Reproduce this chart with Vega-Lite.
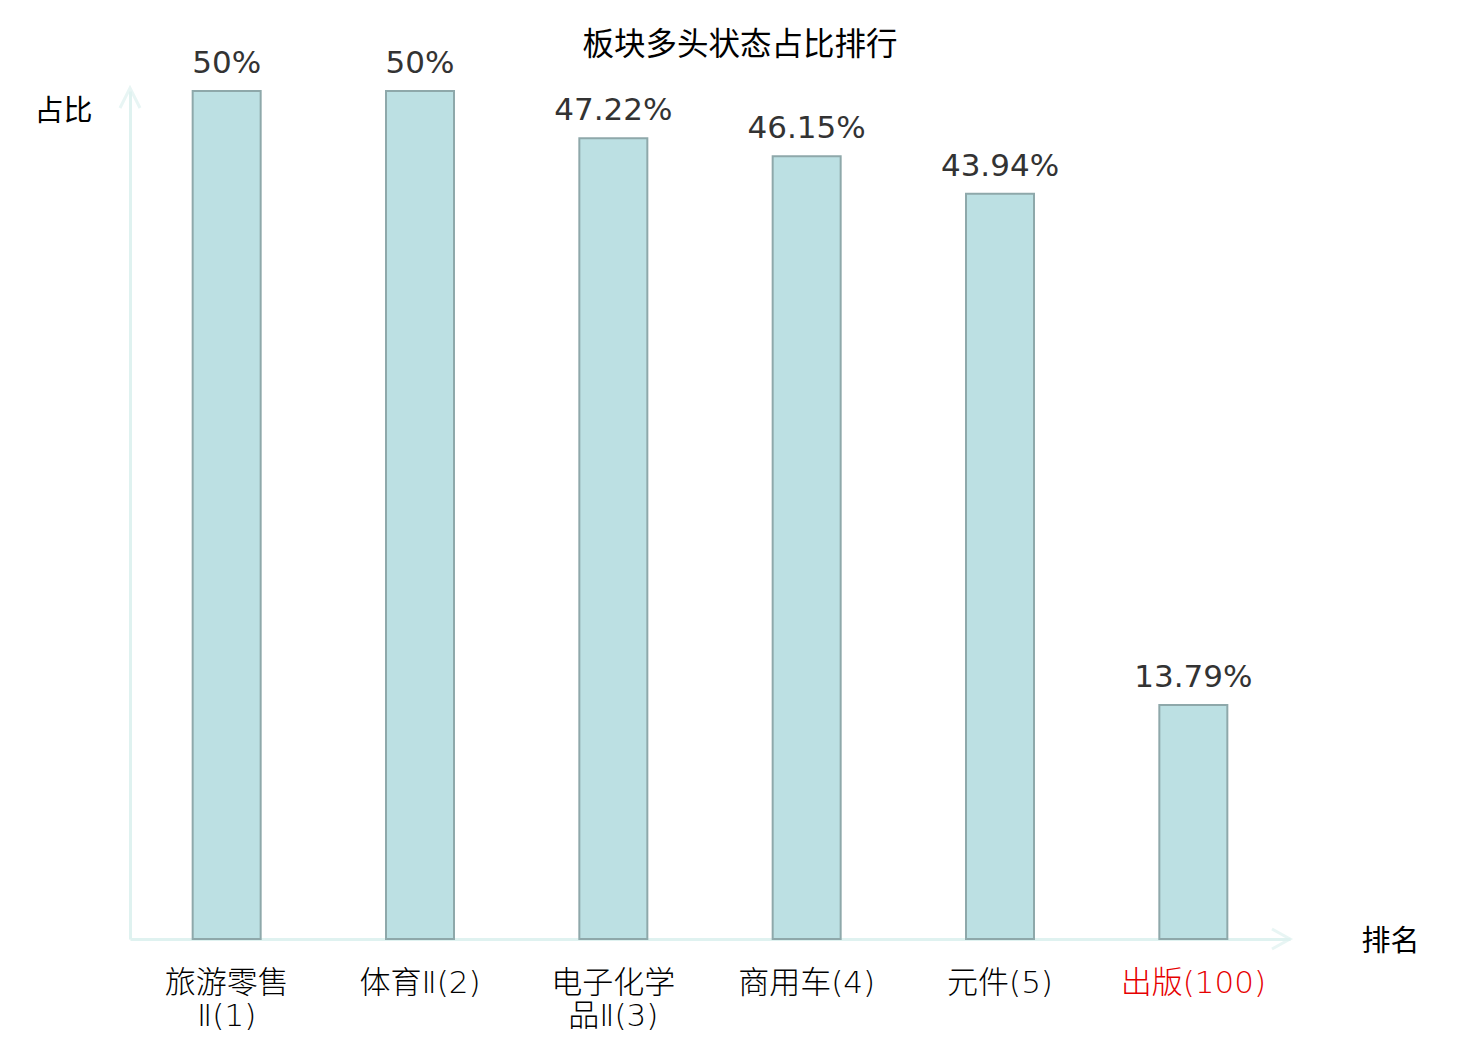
{
  "$schema": "https://vega.github.io/schema/vega-lite/v6.json",
  "width": 1160,
  "height": 848,
  "autosize": {"type": "none"},
  "padding": {"left": 130, "top": 91, "right": 190, "bottom": 101},
  "background": "white",
  "config": {
    "font": "Noto Sans CJK SC",
    "view": {"stroke": null}
  },
  "title": {
    "text": "板块多头状态占比排行",
    "font": "Noto Sans CJK SC",
    "fontSize": 31.5,
    "fontWeight": "normal",
    "color": "black",
    "anchor": "middle",
    "dx": 30,
    "dy": 43,
    "offset": 30
  },
  "datasets": {
    "arrows": [
      {"dir": "up"},
      {"dir": "right"}
    ]
  },
  "data": {
    "values": [
      {"name": "旅游零售Ⅱ(1)", "pct": 50, "label": "50%"},
      {"name": "体育Ⅱ(2)", "pct": 50, "label": "50%"},
      {"name": "电子化学品Ⅱ(3)", "pct": 47.22, "label": "47.22%"},
      {"name": "商用车(4)", "pct": 46.15, "label": "46.15%"},
      {"name": "元件(5)", "pct": 43.94, "label": "43.94%"},
      {"name": "出版(100)", "pct": 13.79, "label": "13.79%"}
    ]
  },
  "encoding": {
    "x": {
      "field": "name",
      "type": "nominal",
      "sort": null,
      "scale": {"paddingInner": 0, "paddingOuter": 0},
      "axis": {
        "title": "排名",
        "titleAngle": 0,
        "titleX": 1260,
        "titleY": 2,
        "titleAlign": "center",
        "titleBaseline": "middle",
        "titleFont": "Noto Sans CJK SC",
        "titleFontSize": 29,
        "titleFontWeight": "normal",
        "titleColor": "black",
        "labelAngle": 0,
        "labelFont": "DejaVu Sans, Noto Sans CJK SC",
        "labelFontWeight": 300,
        "labelFontSize": 31,
        "labelLineHeight": 33,
        "labelPadding": 29,
        "labelColor": {"condition": {"test": "datum.value == '出版(100)'", "value": "#e60000"}, "value": "black"},
        "labelExpr": "length(datum.label) > 7 ? [substring(datum.label, 0, 4), substring(datum.label, 4)] : datum.label",
        "ticks": false,
        "domainColor": "#dff2f0",
        "domainWidth": 3
      }
    },
    "y": {
      "field": "pct",
      "type": "quantitative",
      "scale": {"domain": [0, 50]},
      "axis": {
        "title": "占比",
        "titleAngle": 0,
        "titleX": -67,
        "titleY": 20,
        "titleAlign": "center",
        "titleBaseline": "middle",
        "titleFont": "Noto Sans CJK SC",
        "titleFontSize": 29,
        "titleFontWeight": "normal",
        "titleColor": "black",
        "labels": false,
        "ticks": false,
        "grid": false,
        "domainColor": "#dff2f0",
        "domainWidth": 3
      }
    }
  },
  "layer": [
    {
      "mark": {"type": "bar", "size": 68, "fill": "#bce0e3", "stroke": "#8ea8aa", "strokeWidth": 2}
    },
    {
      "mark": {"type": "text", "baseline": "alphabetic", "dy": -18, "font": "DejaVu Sans", "fontSize": 31, "color": "#333333"},
      "encoding": {"text": {"field": "label"}}
    },
    {
      "data": {"name": "arrows"},
      "transform": [{"filter": "datum.dir == 'up'"}],
      "mark": {"type": "point", "shape": "M-1,2L0,0L1,2", "size": 400, "filled": false, "stroke": "#dff2f0", "strokeWidth": 3},
      "encoding": {"x": {"value": 0}, "y": {"value": -3}}
    },
    {
      "data": {"name": "arrows"},
      "transform": [{"filter": "datum.dir == 'right'"}],
      "mark": {"type": "point", "shape": "M-1.8,-1L0,0L-1.8,1", "size": 400, "filled": false, "stroke": "#dff2f0", "strokeWidth": 3},
      "encoding": {"x": {"value": "width"}, "y": {"value": "height"}}
    }
  ]
}
